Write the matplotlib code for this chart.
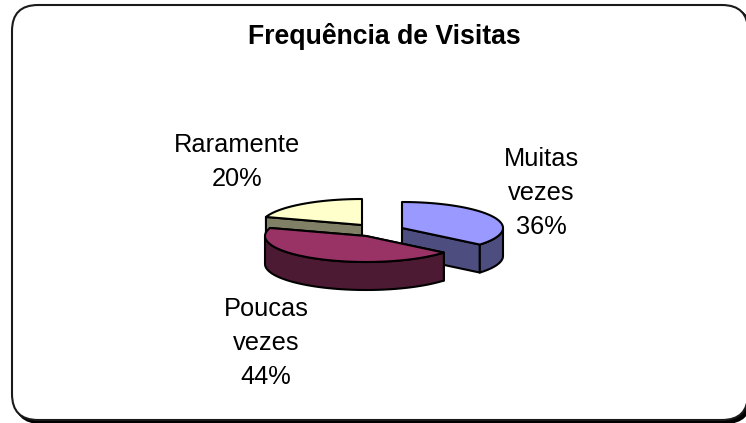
#!/usr/bin/env python3
# -*- coding: utf-8 -*-
from matplotlib import pyplot as plt
from matplotlib.patches import FancyBboxPatch
import numpy as np

title = 'Frequência de Visitas'
categories = ['Muitas\nvezes', 'Poucas\nvezes', 'Raramente']
values = [36, 44, 20]

top_clrs = ['#9999FF', '#993366', '#FFFFCC']
side_clrs = ['#4D4D80', '#4D1A33', '#808066']

# apex of each slice on the canvas, pixels
apex = [(402, 228), (366, 236), (362, 225)]
label_pos = [(541, 193), (266, 343), (237, 162)]
rx = 101
ry = 26
depth = 28


def rim(cx, cy, a0, a1):
    # angles in degrees, clockwise from 12 o'clock
    t = np.radians(np.linspace(a0, a1, 80))
    return cx + rx * np.sin(t), cy - ry * np.cos(t)


def prism(ax, xs, ys, clr):
    px = np.concatenate([xs, xs[::-1]])
    py = np.concatenate([ys, ys[::-1] + depth])
    ax.fill(px, py, facecolor=clr, edgecolor='black', lw=1.5, joinstyle='round')


def slice3d(ax, i, a0, a1):
    cx, cy = apex[i]
    # cut faces first, then the front of the rim, then the top
    for a in (a0, a1):
        if 0 < a % 360 < 180 or 270 < a < 360:
            xe, ye = rim(cx, cy, a, a)
            prism(ax, np.array([cx, xe[0]]), np.array([cy, ye[0]]), side_clrs[i])
    lo = max(a0, 90)
    hi = min(a1, 270)
    if lo < hi:
        xs, ys = rim(cx, cy, lo, hi)
        prism(ax, xs, ys, side_clrs[i])
    xs, ys = rim(cx, cy, a0, a1)
    ax.fill(np.r_[cx, xs], np.r_[cy, ys], facecolor=top_clrs[i], edgecolor='black',
            lw=1.5, joinstyle='round')


fig = plt.figure(figsize=(7.46, 4.23), dpi=100)
ax = fig.add_axes([0, 0, 1, 1])
ax.set_xlim(0, 746)
ax.set_ylim(423, 0)
ax.axis('off')

# chart frame with its shadow
ax.add_patch(FancyBboxPatch((15, 8), 736, 415, boxstyle='round,pad=0,rounding_size=26',
                            facecolor='black', edgecolor='black', lw=1.5))
ax.add_patch(FancyBboxPatch((12, 5), 736, 415, boxstyle='round,pad=0,rounding_size=26',
                            facecolor='white', edgecolor='#1A1A1A', lw=1.5))

ang = np.cumsum([0] + values) * 3.6
# back slices first so the red one lands on top
for i in [2, 0, 1]:
    slice3d(ax, i, ang[i], ang[i + 1])

ax.text(384, 36, title, ha='center', va='center', fontsize=19.2, fontweight='bold',
        family='Liberation Sans')
for i in range(len(values)):
    ax.text(label_pos[i][0], label_pos[i][1], categories[i] + '\n' + str(values[i]) + '%',
            ha='center', va='center', fontsize=18.3, family='Liberation Sans', linespacing=1.52)

plt.savefig('out.png', dpi=100)
